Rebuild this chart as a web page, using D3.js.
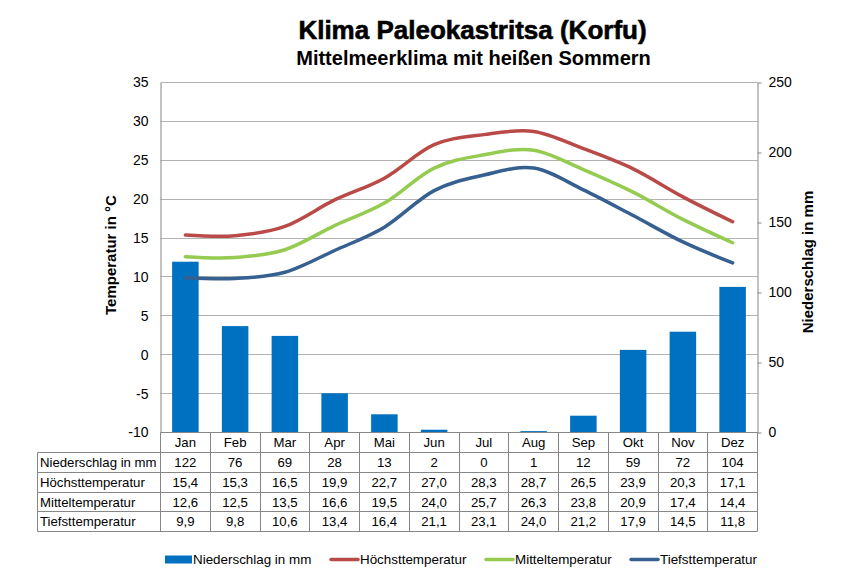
<!DOCTYPE html>
<html>
<head>
<meta charset="utf-8">
<script src="https://cdn.jsdelivr.net/npm/d3@7"></script>
<style>
  html, body { margin: 0; padding: 0; background: #fff; }
  text { font-family: "Liberation Sans", Arial, sans-serif; fill: #000; }
</style>
</head>
<body>
<div id="chart"></div>
<script>
const months = ["Jan", "Feb", "Mar", "Apr", "Mai", "Jun", "Jul", "Aug", "Sep", "Okt", "Nov", "Dez"];
const rain = [122, 76, 69, 28, 13, 2, 0, 1, 12, 59, 72, 104];
const high = [15.4, 15.3, 16.5, 19.9, 22.7, 27.0, 28.3, 28.7, 26.5, 23.9, 20.3, 17.1];
const mean = [12.6, 12.5, 13.5, 16.6, 19.5, 24.0, 25.7, 26.3, 23.8, 20.9, 17.4, 14.4];
const low = [9.9, 9.8, 10.6, 13.4, 16.4, 21.1, 23.1, 24.0, 21.2, 17.9, 14.5, 11.8];
const tempTicks = [-10, -5, 0, 5, 10, 15, 20, 25, 30, 35];
const rainTicks = [0, 50, 100, 150, 200, 250];

const WIDTH = 848;
const HEIGHT = 588;
const LEFT = 160.5;
const RIGHT = 757.5;
const TOP = 82.5;
const BOTTOM = 432.5;
const TABLE_LEFT = 37.5;
const GRID = "#b3b3b3";
const BORDER = "#868686";
const BLUE = "#0070c0";
const RED = "#b94a48";
const GREEN = "#94cb50";
const NAVY = "#36608f";
const TABLE_FONT = "13.2px";

const x = d3.scaleBand().domain(months).range([LEFT, RIGHT]);
const yTemp = d3.scaleLinear().domain([-10, 35]).range([BOTTOM, TOP]);
const yRain = d3.scaleLinear().domain([0, 250]).range([BOTTOM, TOP]);

const svg = d3.select("#chart").append("svg")
    .attr("width", WIDTH)
    .attr("height", HEIGHT)
    .style("display", "block");

// Titles
svg.append("text")
    .attr("x", 472.5).attr("y", 39)
    .attr("text-anchor", "middle")
    .style("font-size", "26px")
    .style("font-weight", "bold")
    .style("stroke", "#000")
    .style("stroke-width", "0.6px")
    .text("Klima Paleokastritsa (Korfu)");
svg.append("text")
    .attr("x", 473.5).attr("y", 65)
    .attr("text-anchor", "middle")
    .style("font-size", "20px")
    .style("font-weight", "bold")
    .text("Mittelmeerklima mit heißen Sommern");

// Grid lines
svg.append("g")
    .selectAll("line")
    .data(tempTicks.filter(d => d > -10))
    .enter()
    .append("line")
    .attr("x1", LEFT).attr("x2", RIGHT)
    .attr("y1", d => Math.round(yTemp(d) - 0.5) + 0.5)
    .attr("y2", d => Math.round(yTemp(d) - 0.5) + 0.5)
    .attr("stroke", GRID);

// Bars
const BAR_WIDTH = 26.5;
svg.append("g")
    .selectAll("rect")
    .data(months)
    .enter()
    .append("rect")
    .attr("x", d => x(d) + x.bandwidth() / 2 - BAR_WIDTH / 2)
    .attr("width", BAR_WIDTH)
    .attr("y", (d, i) => yRain(rain[i]))
    .attr("height", (d, i) => BOTTOM - yRain(rain[i]))
    .attr("fill", BLUE);

// Left axis
const leftAxis = svg.append("g")
    .attr("transform", `translate(${LEFT},0)`)
    .call(d3.axisLeft(yTemp).tickValues(tempTicks).tickFormat(String).tickSize(0).tickPadding(12));
leftAxis.select(".domain").attr("stroke", BORDER);
leftAxis.selectAll("text").style("font-size", "14px");

// Right axis
const rightAxis = svg.append("g")
    .attr("transform", `translate(${RIGHT},0)`)
    .call(d3.axisRight(yRain).tickValues(rainTicks).tickFormat(String).tickSize(4).tickSizeOuter(0).tickPadding(7));
rightAxis.select(".domain").attr("stroke", BORDER);
rightAxis.selectAll("line").attr("stroke", BORDER);
rightAxis.selectAll("text").style("font-size", "14px");

// Axis titles
svg.append("text")
    .attr("transform", "translate(116,255) rotate(-90)")
    .attr("text-anchor", "middle")
    .style("font-size", "15px")
    .style("font-weight", "bold")
    .text("Temperatur in °C");
svg.append("text")
    .attr("transform", "translate(813,262) rotate(-90)")
    .attr("text-anchor", "middle")
    .style("font-size", "15px")
    .style("font-weight", "bold")
    .text("Niederschlag in  mm");

// Temperature lines
const line = d3.line()
    .x((d, i) => x(months[i]) + x.bandwidth() * 0.5)
    .y(d => yTemp(d))
    .curve(d3.curveCardinal.tension(0));

svg.append("g")
    .selectAll("path")
    .data([
        { values: high, color: RED },
        { values: mean, color: GREEN },
        { values: low, color: NAVY }
    ])
    .enter()
    .append("path")
    .attr("d", d => line(d.values))
    .attr("fill", "none")
    .attr("stroke", d => d.color)
    .attr("stroke-width", 3.5)
    .attr("stroke-linecap", "round");

// Data table
const rows = [
    { label: "Niederschlag in mm", values: rain.map(String) },
    { label: "Höchsttemperatur", values: high.map(d => d.toFixed(1).replace(".", ",")) },
    { label: "Mitteltemperatur", values: mean.map(d => d.toFixed(1).replace(".", ",")) },
    { label: "Tiefsttemperatur", values: low.map(d => d.toFixed(1).replace(".", ",")) }
];
const rowY = [452.5, 472.5, 492.5, 511.5, 531.5];

const table = svg.append("g").attr("stroke", BORDER);
rowY.forEach(y => {
    table.append("line").attr("x1", TABLE_LEFT).attr("x2", RIGHT).attr("y1", y).attr("y2", y);
});
table.append("line").attr("x1", LEFT).attr("x2", RIGHT).attr("y1", BOTTOM).attr("y2", BOTTOM);
table.append("line").attr("x1", TABLE_LEFT).attr("x2", TABLE_LEFT).attr("y1", rowY[0]).attr("y2", rowY[4]);
months.forEach(m => {
    const cx = Math.round(x(m) - 0.5) + 0.5;
    table.append("line").attr("x1", cx).attr("x2", cx).attr("y1", BOTTOM).attr("y2", rowY[4]);
});
table.append("line").attr("x1", RIGHT).attr("x2", RIGHT).attr("y1", BOTTOM).attr("y2", rowY[4]);

const cellText = (tx, ty, anchor, s) => svg.append("text")
    .attr("x", tx).attr("y", ty)
    .attr("text-anchor", anchor)
    .style("font-size", TABLE_FONT)
    .text(s);

months.forEach(m => cellText(x(m) + x.bandwidth() / 2, 447, "middle", m));
rows.forEach((r, j) => {
    const ty = rowY[j] + 14.5;
    cellText(40, ty, "start", r.label);
    r.values.forEach((v, i) => cellText(x(months[i]) + x.bandwidth() / 2, ty, "middle", v));
});

// Legend
const legend = [
    { label: "Niederschlag in mm", color: BLUE, bar: true, x: 165, w: 27 },
    { label: "Höchsttemperatur", color: RED, bar: false, x: 331, w: 27 },
    { label: "Mitteltemperatur", color: GREEN, bar: false, x: 486, w: 27 },
    { label: "Tiefsttemperatur", color: NAVY, bar: false, x: 631, w: 27 }
];
const item = svg.append("g").selectAll("g")
    .data(legend)
    .enter()
    .append("g")
    .attr("transform", d => `translate(${d.x},559.5)`);
item.filter(d => d.bar).append("rect")
    .attr("y", -4).attr("width", d => d.w).attr("height", 8)
    .attr("fill", d => d.color);
item.filter(d => !d.bar).append("line")
    .attr("x2", d => d.w)
    .attr("stroke", d => d.color)
    .attr("stroke-width", 3.5)
    .attr("stroke-linecap", "round");
item.append("text")
    .attr("x", d => d.w + (d.bar ? 1 : 2)).attr("y", 4.5)
    .style("font-size", "13.4px")
    .text(d => d.label);
</script>
</body>
</html>
